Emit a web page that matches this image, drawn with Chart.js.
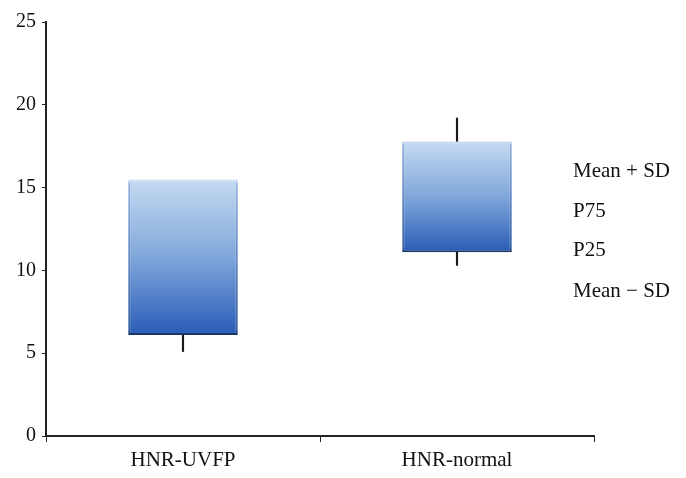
<!DOCTYPE html>
<html lang="en">
<head>
    <meta charset="UTF-8">
    <title>HNR box chart</title>
    <script src="https://cdn.jsdelivr.net/npm/chart.js"></script>
    <style>
        html, body { margin: 0; padding: 0; background: #fff; }
        .wrap { width: 686px; height: 478px; }
    </style>
</head>
<body>
    <div class="wrap"><canvas id="myChart" width="686" height="478"></canvas></div>

    <script>
        // categories and values
        const groups = ["HNR-UVFP", "HNR-normal"];
        const boxRanges = [[6.1, 15.5], [11.1, 17.8]];      // P25 .. P75
        const upperWhiskers = [null, [17.8, 19.2]];         // up to Mean + SD
        const lowerWhiskers = [[5.1, 6.1], [10.3, 11.1]];   // down to Mean - SD
        const yTicks = [0, 5, 10, 15, 20, 25];
        const sideNotes = ["Mean + SD", "P75", "P25", "Mean \u2212 SD"];

        const serif = "'Liberation Serif', 'DejaVu Serif', serif";

        function makeGradient(context, stops, fallback) {
            const chart = context.chart;
            const raw = context.raw;
            const y = chart.scales.y;
            if (!raw || !y) return fallback;
            const top = y.getPixelForValue(raw[1]);
            const bottom = y.getPixelForValue(raw[0]);
            if (!isFinite(top) || !isFinite(bottom) || top === bottom) return fallback;
            const g = chart.ctx.createLinearGradient(0, top, 0, bottom);
            stops.forEach(s => g.addColorStop(s[0], s[1]));
            return g;
        }

        const boxFill = ctx => makeGradient(ctx, [[0, "#c4daf1"], [0.5, "#80a7da"], [0.93, "#3566bb"], [1, "#2a5cb4"]], "#5b8bd0");
        // darker rim gives the bevelled look, ends navy at the bottom edge
        const boxEdge = ctx => makeGradient(ctx, [[0, "#e4eef9"], [0.03, "#8eaedb"], [0.5, "#5e85c4"], [0.96, "#34609f"], [1, "#172f5e"]], "#1b3566");

        // right-hand notes
        const notesPlugin = {
            id: "notes",
            afterDraw(chart) {
                const ctx = chart.ctx;
                ctx.save();
                ctx.fillStyle = "#111";
                ctx.font = "21px " + serif;
                ctx.textBaseline = "middle";
                const ys = [171, 211, 250, 291];
                sideNotes.forEach((t, i) => ctx.fillText(t, 573, ys[i]));
                ctx.restore();
            }
        };

        const ctx = document.getElementById("myChart").getContext("2d");
        new Chart(ctx, {
            type: "bar",
            data: {
                labels: groups,
                datasets: [
                    {
                        data: upperWhiskers,
                        backgroundColor: "#1a1a1a",
                        barThickness: 1.5,
                        grouped: false
                    },
                    {
                        data: lowerWhiskers,
                        backgroundColor: "#1a1a1a",
                        barThickness: 1.5,
                        grouped: false
                    },
                    {
                        data: boxRanges,
                        backgroundColor: boxFill,
                        borderColor: boxEdge,
                        borderWidth: { top: 2, left: 2, right: 2, bottom: 2 },
                        borderSkipped: false,
                        barPercentage: 0.4,
                        categoryPercentage: 1,
                        grouped: false
                    }
                ]
            },
            plugins: [notesPlugin],
            options: {
                responsive: false,
                animation: false,
                layout: { padding: { top: 22, right: 92, left: 0, bottom: 0 } },
                plugins: {
                    legend: { display: false },
                    tooltip: { enabled: false }
                },
                scales: {
                    x: {
                        grid: { display: true, drawOnChartArea: false, drawTicks: true, tickLength: 6, color: "#222", offset: true },
                        border: { color: "#222", width: 2 },
                        ticks: { color: "#111", font: { family: serif, size: 21 }, padding: 6 },
                        afterFit(s) { s.height = 42; }
                    },
                    y: {
                        min: 0,
                        max: 25,
                        afterBuildTicks(s) { s.ticks = yTicks.map(v => ({ value: v })); },
                        grid: { display: true, drawOnChartArea: false, drawTicks: true, tickLength: 4, color: "#222" },
                        border: { color: "#222", width: 2 },
                        ticks: { color: "#111", font: { family: serif, size: 20 }, padding: 6 },
                        afterFit(s) { s.width = 46; }
                    }
                }
            }
        });
    </script>
</body>
</html>
